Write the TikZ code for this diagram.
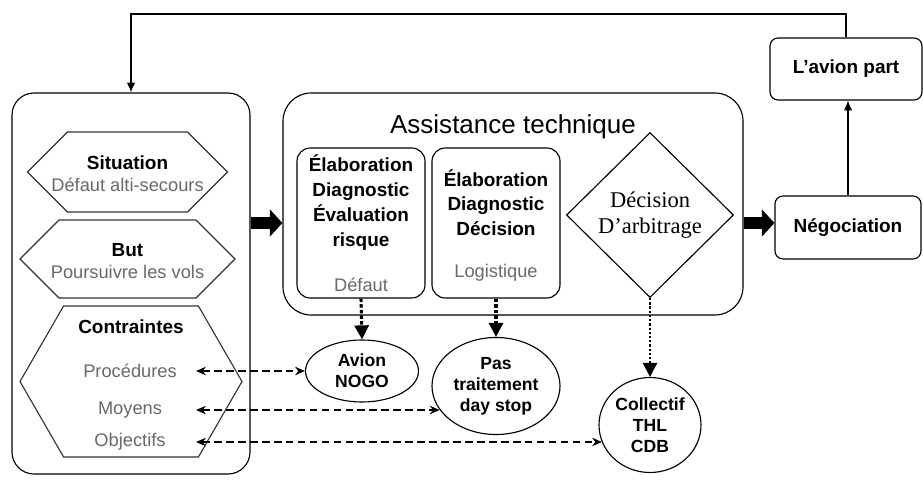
\documentclass[tikz,border=0pt]{standalone}
\usepackage{fontspec}
\setmainfont{Liberation Sans}
\newfontfamily\seriflosange{Liberation Serif}
\usetikzlibrary{shapes.geometric,shapes.symbols,arrows.meta}

\definecolor{gristexte}{RGB}{105,105,105}

\tikzset{
  cadre/.style={draw, rounded corners=0.55cm},
  boite/.style={draw, rounded corners=0.33cm, minimum width=3.2cm, minimum height=3.75cm},
  hexa/.style={draw=black!80, signal, signal to=west and east, inner sep=0pt},
  ovale/.style={draw, ellipse, inner sep=0pt, align=center,
    font=\fontsize{12.5}{15}\selectfont\bfseries},
  gras/.style={align=center, font=\fontsize{13.5}{17.5}\selectfont\bfseries},
  sous/.style={text=gristexte, font=\fontsize{13}{15}\selectfont},
  etiquette/.style={draw, rounded corners=0.2cm, font=\fontsize{13.5}{16}\selectfont\bfseries},
  grosse fleche/.style={line width=8pt, -{Triangle[length=9pt,width=19pt]}},
  fleche tiret/.style={line width=2.2pt, dash pattern=on 2.5pt off 1.5pt,
    -{Triangle[length=10pt,width=10pt]}},
  fleche point/.style={line width=1.6pt, dash pattern=on 1.6pt off 1.4pt,
    -{Triangle[length=10pt,width=10pt]}},
  double tiret/.style={line width=1pt, dash pattern=on 5.5pt off 3pt,
    {Stealth[length=7pt,width=6pt]}-{Stealth[length=7pt,width=6pt]}}
}

\begin{document}
\begin{tikzpicture}[thick]

\useasboundingbox
(0,0)
rectangle
(23.075,11.975);

% Cadre de gauche
\node[cadre, minimum width=5.95cm, minimum height=9.525cm]
(gauche)
at (3.275,4.8875)
{};

% Situation
\node[hexa, signal pointer angle=90, minimum width=5cm, minimum height=2cm]
(situation)
at (3.1875,7.675)
{};
\node[gras]
(situationtxt)
at (3.1875,7.625)
{Situation\\[-2pt]{\mdseries\color{gristexte}\fontsize{13}{15}\selectfont D\'efaut alti-secours}};

% But
\node[hexa, signal pointer angle=90, minimum width=5.375cm, minimum height=1.95cm]
(but)
at (3.1875,5.5)
{};
\node[gras]
(buttxt)
at (3.1875,5.45)
{But\\[-2pt]{\mdseries\color{gristexte}\fontsize{13}{15}\selectfont Poursuivre les vols}};

% Contraintes
\node[hexa, signal pointer angle=120, minimum width=5.55cm, minimum height=3.775cm]
(contraintes)
at (3.275,2.4375)
{};
\node[gras]
(contraintestxt)
at (3.275,3.8)
{Contraintes};
\node[sous]
(procedures)
at (3.25,2.7)
{Proc\'edures};
\node[sous]
(moyens)
at (3.25,1.725)
{Moyens};
\node[sous]
(objectifs)
at (3.25,0.925)
{Objectifs};
\coordinate (bord) at (4.9,0);

% Assistance technique
\node[cadre, rounded corners=0.7cm, minimum width=11.5cm, minimum height=5.55cm]
(assistance)
at (12.825,6.875)
{};
\node[font=\fontsize{18.5}{22}\selectfont]
(titre)
at (12.825,8.8)
{Assistance technique};

\node[boite]
(defaut)
at (9.025,6.4)
{};
\node[gras, font=\fontsize{13.5}{17.8}\selectfont\bfseries]
(defauttxt)
at (9.025,6.9125)
{\'Elaboration\\Diagnostic\\\'Evaluation\\risque};
\node[sous]
(defautlbl)
at (9.025,4.85)
{D\'efaut};

\node[boite]
(logistique)
at (12.4,6.4)
{};
\node[gras, font=\fontsize{13.5}{17.4}\selectfont\bfseries]
(logistiquetxt)
at (12.4,6.9125)
{\'Elaboration\\Diagnostic\\D\'ecision};
\node[sous]
(logistiquelbl)
at (12.4,5.15)
{Logistique};

\node[draw, diamond, inner sep=0pt, minimum width=4.175cm, minimum height=4.125cm,
  align=center, font=\seriflosange\fontsize{16}{19}\selectfont]
(arbitrage)
at (16.25,6.6)
{D\'ecision\\D’arbitrage};

% Issues
\node[ovale, minimum width=2.825cm, minimum height=1.55cm]
(nogo)
at (9.05,2.7)
{Avion\\NOGO};
\node[ovale, minimum width=3.2cm, minimum height=2.425cm]
(daystop)
at (12.4,2.325)
{Pas\\traitement\\day stop};
\node[ovale, minimum width=2.55cm, minimum height=2.375cm]
(collectif)
at (16.25,1.35)
{Collectif\\THL\\CDB};

% Negociation et depart
\node[etiquette, minimum width=3.65cm, minimum height=1.575cm]
(negociation)
at (21.2,6.2875)
{N\'egociation};
\node[etiquette, minimum width=3.8cm, minimum height=1.55cm]
(depart)
at (21.15,10.25)
{L’avion part};

\coordinate (niveau) at (0,6.4);
\coordinate (haut) at (3.275,11.625);

% Fleches
\draw[grosse fleche]
(gauche.east |- niveau)
--
(assistance.west |- niveau);

\draw[grosse fleche]
(assistance.east |- niveau)
--
(negociation.west |- niveau);

\draw[-{Latex[length=7pt,width=6pt]}]
(negociation.north)
--
(negociation.north |- depart.south);

\draw[-{Latex[length=7pt,width=6pt]}]
(depart.north)
|-
(haut)
--
(gauche.north);

\draw[fleche tiret]
(defaut.south)
--
(nogo.north);

\draw[fleche tiret]
(logistique.south)
--
(daystop.north);

\draw[fleche point]
(arbitrage.south)
--
(collectif.north);

\draw[double tiret]
(procedures -| bord)
--
(nogo.west);

\draw[double tiret]
(moyens -| bord)
--
(moyens -| daystop.203);

\draw[double tiret]
(objectifs -| bord)
--
(objectifs -| collectif.200);

\end{tikzpicture}
\end{document}
